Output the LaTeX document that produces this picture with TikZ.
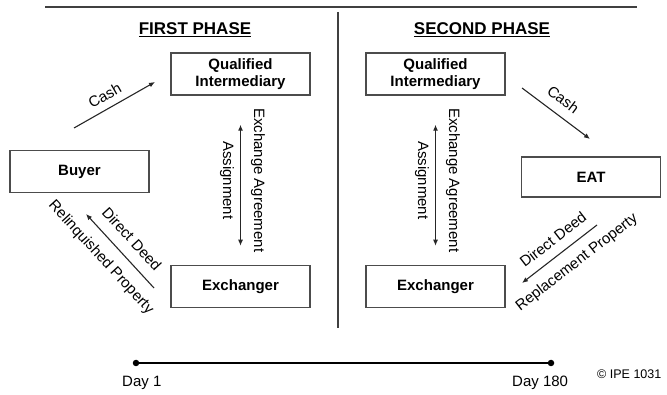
\documentclass[tikz,border=0pt]{standalone}
\usepackage{fontspec}
\setmainfont{Liberation Sans}
\usetikzlibrary{positioning,arrows.meta}
\tikzset{
    block/.style={rectangle, draw=black!70, line width=1.5pt, minimum width=139pt, minimum height=42pt, text centered, align=center, font=\fontsize{15}{17}\selectfont\bfseries},
    line/.style={->, line width=1.1pt, draw=black!85},
    dline/.style={<->, line width=1.1pt, draw=black!85},
    lbl/.style={font=\fontsize{15}{17}\selectfont, inner sep=2pt},
    phase/.style={font=\fontsize{17}{19}\selectfont\bfseries},
    dot/.style={circle, fill=black, inner sep=0pt, minimum size=6.5pt},
}

\begin{document}
\begin{tikzpicture}
        [x=1pt, y=-1pt, >={Latex[length=6pt,width=5pt]}]

        \useasboundingbox (0,0) rectangle (667,395);

        \draw[line width=1.3pt, black!75] (45,7) -- (637,7);
        \draw[line width=1.3pt, black!75] (338,12) -- (338,328);

        \node[phase] (first) at (195,29.5) {\underline{FIRST PHASE}};
        \node[phase] (second) at (482,29.5) {\underline{SECOND PHASE}};

        % first phase
        \node[block] (qiL) at (240.5,74) {Qualified\\Intermediary};
        \node[block] (buyer) at (79.5,171.5) {Buyer};
        \node[block] (exL) at (240.5,286.5) {Exchanger};

        \coordinate (cashL-a) at (74,128);
        \coordinate (cashL-b) at (155,82);
        \coordinate (deedL-a) at (154,288);
        \coordinate (deedL-b) at (86,214);

        \draw[line] (cashL-a) -- (cashL-b)
            node[lbl, pos=0.46, sloped, above=5pt] {Cash};
        \draw[dline, shorten <=29pt, shorten >=19pt] (qiL.south) -- (exL.north)
            node[lbl, midway, sloped, above=8pt] {Exchange Agreement}
            node[lbl, midway, sloped, below=4pt] {Assignment};
        \draw[line] (deedL-a) -- (deedL-b)
            node[lbl, pos=0.51, sloped, above=9pt] {Direct Deed}
            node[lbl, pos=0.58, sloped, below=9pt] {Relinquished Property};

        % second phase
        \node[block] (qiR) at (435.5,74) {Qualified\\Intermediary};
        \node[block, minimum height=40pt] (eat) at (591,177) {EAT};
        \node[block] (exR) at (435.5,286.5) {Exchanger};

        \coordinate (cashR-a) at (522,88);
        \coordinate (cashR-b) at (590,139);
        \coordinate (deedR-a) at (597,225);
        \coordinate (deedR-b) at (522,283);

        \draw[line] (cashR-a) -- (cashR-b)
            node[lbl, pos=0.47, sloped, above=7.5pt] {Cash};
        \draw[dline, shorten <=29pt, shorten >=19pt] (qiR.south) -- (exR.north)
            node[lbl, midway, sloped, above=8pt] {Exchange Agreement}
            node[lbl, midway, sloped, below=4pt] {Assignment};
        \draw[line] (deedR-a) -- (deedR-b)
            node[lbl, pos=0.46, sloped, above=7.5pt] {Direct Deed}
            node[lbl, pos=0.41, sloped, below=8pt] {Replacement Property};

        % time line
        \node[dot] (d1) at (136,363) {};
        \node[dot] (d180) at (551,363) {};
        \draw[line width=1.3pt] (d1) -- (d180);
        \node[lbl, anchor=base west, inner sep=0pt] (day1) at (122,387) {Day 1};
        \node[lbl, anchor=base west, inner sep=0pt] (day180) at (512,387) {Day 180};
        \node[anchor=base west, inner sep=0pt, font=\fontsize{12.5}{14}\selectfont] (ipe) at (597,379) {© IPE 1031};

    \end{tikzpicture}
\end{document}
